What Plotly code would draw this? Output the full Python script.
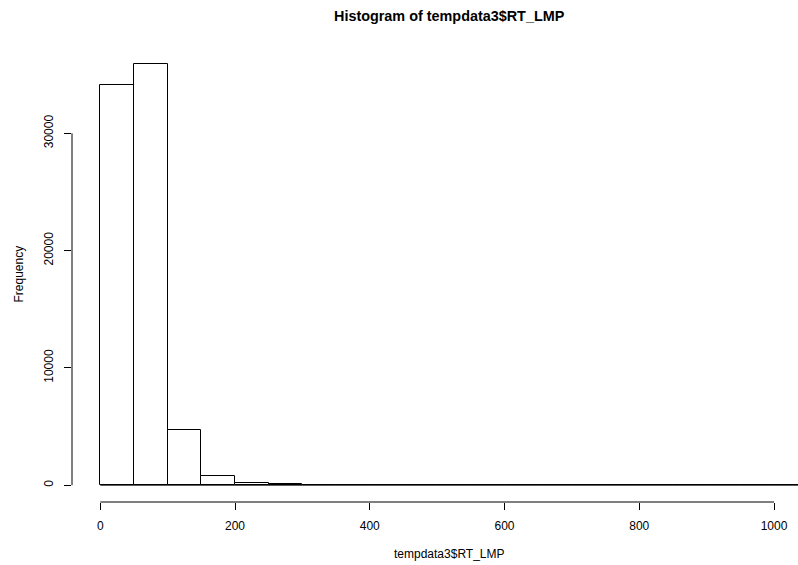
import plotly.graph_objects as go

# Histogram of real-time LMP: 50-wide bins from 0 to 1050
bin_edges = [0, 50, 100, 150, 200, 250, 300, 350, 400, 450, 500, 550,
             600, 650, 700, 750, 800, 850, 900, 950, 1000, 1050]
counts = [34150, 35930, 4690, 745, 170, 80, 25, 12, 5, 3, 2, 1,
          1, 0, 1, 0, 0, 0, 0, 0, 1]
x_ticks = [0, 200, 400, 600, 800, 1000]
y_ticks = [0, 10000, 20000, 30000]

title_text = "Histogram of tempdata3$RT_LMP"
x_label = "tempdata3$RT_LMP"
y_label = "Frequency"

centers = [(a + b) / 2 for a, b in zip(bin_edges[:-1], bin_edges[1:])]
widths = [b - a for a, b in zip(bin_edges[:-1], bin_edges[1:])]

W, H = 798, 565
ML, MT, MB = 72, 47, 63
plot_w = W - ML

# R-style 4% axis extension; the right side of the region runs past the canvas
span = bin_edges[-1] - bin_edges[0]
x_lo = bin_edges[0] - 0.04 * span
full_w = 764  # width of the complete plotting region in px
x_hi = x_lo + (span * 1.08) * plot_w / full_w
ymax = max(counts)
y_lo, y_hi = -0.04 * ymax, 1.04 * ymax

FONT = "Liberation Sans, Arial, Helvetica, sans-serif"

fig = go.Figure()
fig.add_trace(go.Bar(
    x=centers, y=counts, width=widths,
    marker=dict(color="white", line=dict(color="black", width=1)),
    hoverinfo="x+y",
))

# histogram baseline across every bin
fig.add_shape(type="line", xref="x", yref="y",
              x0=bin_edges[0], x1=bin_edges[-1], y0=0, y1=0,
              line=dict(color="black", width=1))
# axis lines spanning first to last tick
fig.add_shape(type="line", xref="x", yref="paper",
              x0=x_ticks[0], x1=x_ticks[-1], y0=0, y1=0,
              line=dict(color="black", width=1))
fig.add_shape(type="line", xref="paper", yref="y",
              x0=0, x1=0, y0=y_ticks[0], y1=y_ticks[-1],
              line=dict(color="black", width=1))

center_paper = (full_w / 2 - 5) / plot_w

fig.update_layout(
    width=W, height=H,
    margin=dict(l=ML, r=0, t=MT, b=MB, pad=0),
    paper_bgcolor="white", plot_bgcolor="white",
    showlegend=False, bargap=0,
    font=dict(family=FONT, size=12, color="black"),
    xaxis=dict(range=[x_lo, x_hi], tickvals=x_ticks,
               ticktext=[str(v) for v in x_ticks], ticks="outside",
               ticklen=7, tickwidth=1, tickcolor="black", showline=False,
               showgrid=False, zeroline=False,
               ticklabelstandoff=6,
               tickfont=dict(family=FONT, size=12, color="black")),
    yaxis=dict(range=[y_lo, y_hi], tickvals=y_ticks,
               ticktext=[str(v) for v in y_ticks], ticks="outside",
               ticklen=7, tickwidth=1, tickcolor="black", showline=False,
               showgrid=False, zeroline=False, tickangle=-90,
               ticklabelstandoff=6,
               tickfont=dict(family=FONT, size=12, color="black")),
    annotations=[
        dict(text="<b>" + title_text + "</b>", xref="paper", yref="paper",
             x=center_paper, y=1, yshift=31, xanchor="center", yanchor="middle",
             showarrow=False, font=dict(family=FONT, size=14.4, color="black")),
        dict(text=x_label, xref="paper", yref="paper",
             x=center_paper, y=0, yshift=-52, xanchor="center", yanchor="middle",
             showarrow=False, font=dict(family=FONT, size=12, color="black")),
        dict(text=y_label, xref="paper", yref="paper",
             x=0, xshift=-54, y=0.5, xanchor="center", yanchor="middle",
             textangle=-90, showarrow=False,
             font=dict(family=FONT, size=12, color="black")),
    ],
)

fig.write_html("out.html")
